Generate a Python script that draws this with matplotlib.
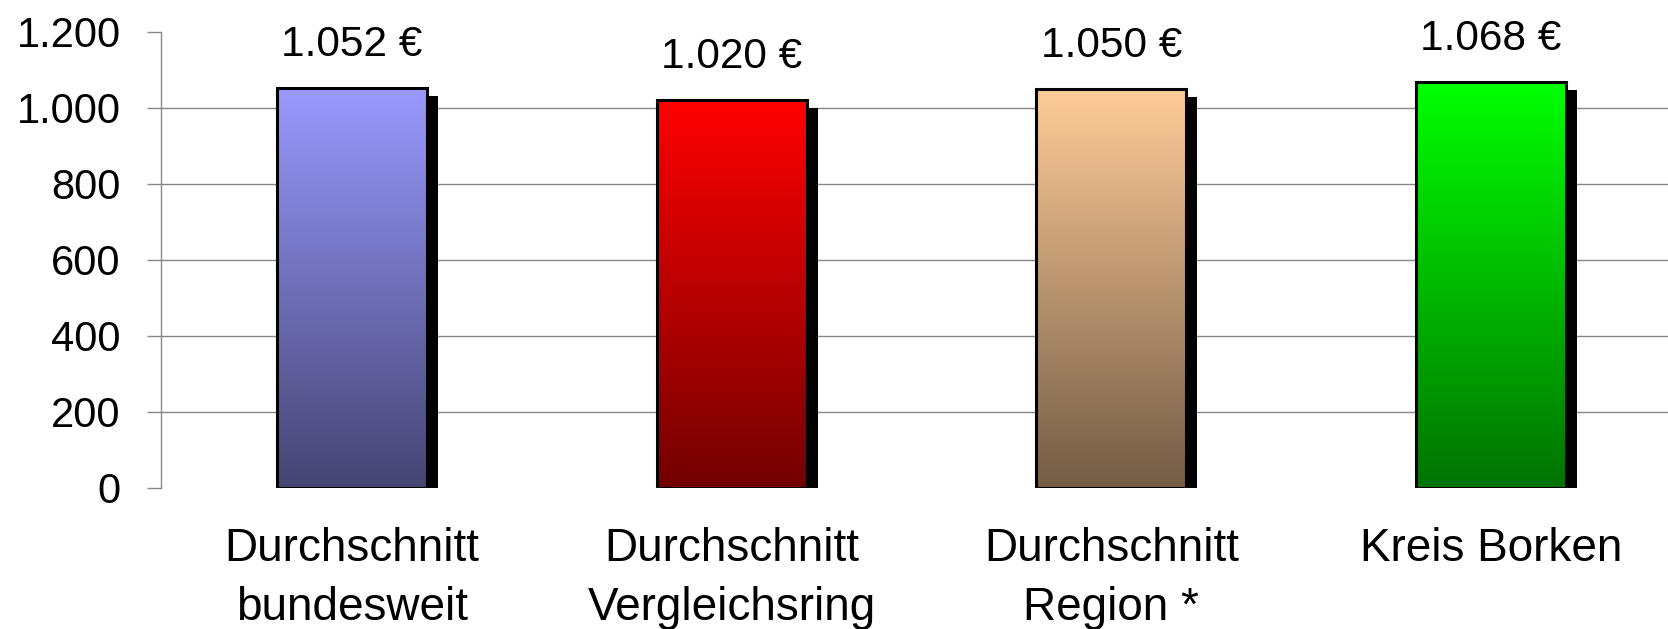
import numpy as np
import matplotlib
matplotlib.use("Agg")
import matplotlib.pyplot as plt
import matplotlib.patheffects as pe
from matplotlib.colors import to_rgb

plt.rcParams['font.family'] = ['Liberation Sans', 'DejaVu Sans']

# Data
categories = ["Durchschnitt\nbundesweit", "Durchschnitt\nVergleichsring",
              "Durchschnitt\nRegion *", "Kreis Borken"]
values = [1052, 1020, 1050, 1068]
value_labels = ["1.052 €", "1.020 €", "1.050 €", "1.068 €"]
bar_colors = ["#9999ff", "#ff0000", "#ffcc99", "#00ff00"]
yticks = [0, 200, 400, 600, 800, 1000, 1200]
ytick_labels = ["0", "200", "400", "600", "800", "1.000", "1.200"]

fig = plt.figure(figsize=(16.68, 6.29), dpi=100)
ax = fig.add_axes([0.0965, 0.2243, 0.9035, 0.7249])

x = np.arange(len(categories))
width = 0.395

# bars with drop shadow
bars = ax.bar(x, values, width=width, color=bar_colors, zorder=2,
              path_effects=[pe.SimplePatchShadow(offset=(8, -5.5), shadow_rgbFace="black", alpha=1.0),
                            pe.Normal()])

# vertical gradient fill clipped to each bar
for b, c in zip(bars, bar_colors):
    top = np.array(to_rgb(c))
    bot = top * 0.45
    t = np.linspace(0, 1, 256)[:, None]
    grad = (bot[None, :] * (1 - t) + top[None, :] * t)[:, None, :]
    x0, y0 = b.get_x(), b.get_y()
    im = ax.imshow(grad, extent=(x0, x0 + b.get_width(), y0, y0 + b.get_height()),
                   origin="lower", aspect="auto", zorder=3, interpolation="bilinear")
    im.set_clip_path(b)

# bar outlines
ax.bar(x, values, width=width, fill=False, edgecolor="black", linewidth=2.2, zorder=4)

for xi, v, lab in zip(x, values, value_labels):
    ax.annotate(lab, (xi, v), xytext=(0, 31), textcoords="offset points",
                ha="center", va="center", fontsize=30.5)

ax.set_xlim(-0.503, 3.466)
ax.set_ylim(0, 1200)
ax.set_yticks(yticks)
ax.set_yticklabels(ytick_labels, fontsize=30)
ax.set_xticks(x)
ax.set_xticklabels(categories, fontsize=33, linespacing=1.45)
ax.tick_params(axis="x", length=0, pad=28)
ax.tick_params(axis="y", length=10, width=1, color="#888888", pad=19)

ax.set_axisbelow(True)
ax.yaxis.grid(True, color="#888888", linewidth=1)
for s in ["top", "right", "bottom"]:
    ax.spines[s].set_visible(False)
ax.spines["left"].set_color("#888888")
ax.spines["left"].set_linewidth(1)
# no gridline at 0 and at the top
gl = ax.get_ygridlines()
gl[0].set_visible(False)
gl[-1].set_visible(False)

fig.savefig("out.png", dpi=100)
